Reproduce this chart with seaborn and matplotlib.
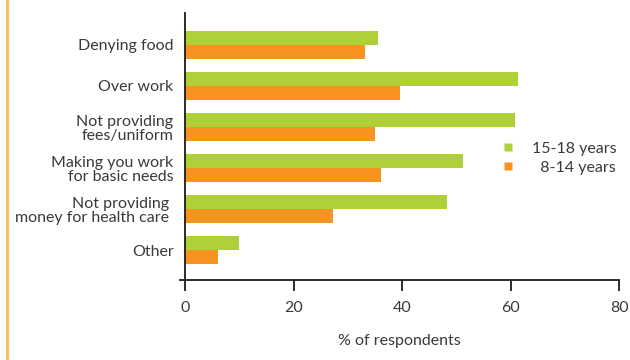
import matplotlib
matplotlib.use("Agg")
import matplotlib.pyplot as plt
import matplotlib.lines as mlines
import pandas as pd
import seaborn as sns

categories = [
    "Denying food",
    "Over work",
    "Not providing\nfees/uniform",
    "Making you work\nfor basic needs",
    "Not providing \nmoney for health care ",
    "Other",
]
series = ["15-18 years", "8-14 years"]
values_15_18 = [35.5, 61.3, 60.8, 51.2, 48.2, 9.8]
values_8_14 = [33.1, 39.6, 34.9, 36.1, 27.3, 6.1]
xticks = [0, 20, 40, 60, 80]

colors = ["#AFD137", "#F7931F"]
text_color = "#3a3a3a"
fs = 11.5

df = pd.DataFrame({
    "category": categories * 2,
    "group": [series[0]] * len(categories) + [series[1]] * len(categories),
    "value": values_15_18 + values_8_14,
})

sns.set_theme(style="white")
plt.rcParams["font.family"] = ["Lato", "DejaVu Sans"]

fig = plt.figure(figsize=(6.3, 3.6), dpi=100)
ax = fig.add_axes([0.2857, 0.222, 0.983 - 0.2857, 0.964 - 0.222])

sns.barplot(data=df, x="value", y="category", hue="group", order=categories,
            hue_order=series, palette=colors, orient="h", width=0.68,
            saturation=1, edgecolor="none", linewidth=0, legend=False, ax=ax)

ax.set_xlim(-1, 80)
ax.set_ylim(5.73, -0.78)
ax.set_xticks(xticks)
ax.set_xticklabels([str(t) for t in xticks])
ax.set_xlabel("% of respondents", fontsize=fs, color=text_color, labelpad=14)
ax.set_ylabel("")

for side in ["top", "right"]:
    ax.spines[side].set_visible(False)
ax.spines["left"].set_position(("data", 0))
for side in ["left", "bottom"]:
    ax.spines[side].set_color("#1a1a1a")
    ax.spines[side].set_linewidth(1.3)

ax.tick_params(axis="x", direction="out", length=8, width=1.3, color="#1a1a1a",
               labelsize=fs, labelcolor=text_color, pad=7, bottom=True)
ax.tick_params(axis="y", length=0, labelsize=fs, labelcolor=text_color, pad=8.5)
for lbl in ax.get_yticklabels():
    lbl.set_linespacing(1.0)

handles = [mlines.Line2D([], [], marker="s", linestyle="none", markersize=6,
                         markerfacecolor=c, markeredgecolor="none") for c in colors]
ax.legend(handles, ["15-18 years", "  8-14 years"], loc="center left",
          bbox_to_anchor=(0.735, 0.457), frameon=False, fontsize=fs,
          labelcolor=text_color, handlelength=0.6, handletextpad=1.2,
          labelspacing=0.3, borderaxespad=0, borderpad=0)

# decorative border line on the left edge
fig.add_artist(mlines.Line2D([6.5 / 630, 6.5 / 630], [0, 1], transform=fig.transFigure,
                             color="#FDBB4E", linewidth=2))

fig.savefig("out.png", dpi=100)
